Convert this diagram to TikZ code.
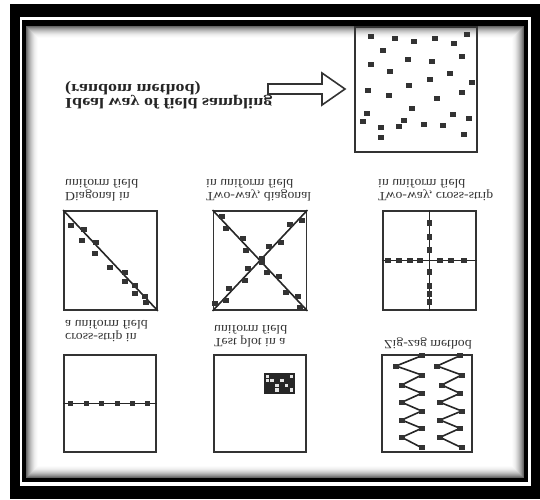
\documentclass[tikz,border=0pt]{standalone}
\usepackage{fontspec}
\setmainfont{Liberation Serif}
\usetikzlibrary{calc}
\begin{document}
\begin{tikzpicture}[x=1pt,y=-1pt,
  boxc/.style={draw=black!80, line width=1.8pt, rectangle, inner sep=0pt},
  linec/.style={draw=black!85, line width=1.6pt},
  arrowc/.style={draw=black!80, line width=1.6pt, line join=miter},
  dotc/.style={fill=black!80},
  lab/.style={yscale=-1, xscale=1.1, align=left, anchor=west, inner sep=0pt, text=black!80,
    font=\fontsize{12.5}{13}\selectfont},
  ttl/.style={yscale=-1, xscale=1.2, align=left, anchor=west, inner sep=0pt, text=black!85,
    font=\bfseries\fontsize{15}{14}\selectfont}]
\useasboundingbox (0,0) rectangle (540,499);
% frame
\fill[black] (10,4) rectangle (540,499);
\fill[white] (20,17) rectangle (531,486);
\fill[black] (22,20) rectangle (528,482);
\foreach \i [evaluate=\i as \c using int(60*(1-\i/13)*(1-\i/13))] in {0,...,12}
  \fill[black!\c] (26+\i,26+\i) rectangle (524-\i,478-\i);
\fill[white] (39,39) rectangle (511,465);

% random sampling box
\node[boxc, minimum width=122pt, minimum height=125pt] (rand) at (416,89.5) {};
\foreach \x/\y in {370.7/36.7, 395/38.3, 414.3/41.7, 435/38.3, 454.3/43.3, 466.7/34,
  383.3/50, 407.7/59.3, 431.7/61.7, 462.3/56, 370.7/64, 390/71, 450/73.3,
  430/79.3, 471.7/82.3, 409/85, 368.3/90.7, 389.3/95.7, 461.7/92.7, 436.7/98.3,
  412.3/108.3, 367.3/113.3, 453.3/114, 363.3/121, 404.3/120, 469.3/118.3,
  381/127.7, 399/126.7, 423.7/124.3, 442.7/125.3, 381/137.3, 464.3/134.3}
  \fill[dotc] (\x-3,\y-2.5) rectangle ++(6,5);

% hollow arrow
\draw[arrowc] (268,84) -- (322,84) -- (322,73) -- (345,89) -- (322,105) -- (322,94) -- (268,94) -- cycle;

% title
\node[ttl] (title) at (65,95) {Ideal way of field sampling\\(random method)};

% labels
\node[lab] (l1) at (65,190.5) {Diagonal in\\uniform field};
\node[lab] (l2) at (206,190.5) {Two-way, diagonal\\in uniform field};
\node[lab] (l3) at (378,190.5) {Two-way, cross-strip\\in uniform field};
\node[lab] (l4) at (65,331.5) {cross-strip in\\a uniform field};
\node[lab] (l5) at (214,336) {Test plot in a\\uniform field};
\node[lab] (l6) at (384,343) {Zig-zag method};

% boxes
\node[boxc, minimum width=93pt, minimum height=99pt] (b1) at (110.5,260.5) {};
\node[boxc, minimum width=93pt, minimum height=99pt] (b2) at (260,260.5) {};
\node[boxc, minimum width=93pt, minimum height=99pt] (b3) at (429.5,260.5) {};
\node[boxc, minimum width=92pt, minimum height=97pt] (b4) at (110,403.5) {};
\node[boxc, minimum width=92pt, minimum height=97pt] (b5) at (260,403.5) {};
\node[boxc, minimum width=90pt, minimum height=97pt] (b6) at (427,403.5) {};

% box 1: diagonal
\draw[linec] (b1.north west) -- (b1.south east);
\foreach \x/\y in {71.3/225.8, 83.7/229.2, 81.6/240.9, 95.7/242.3, 95/253.7, 110.2/267.5,
  124.7/272.6, 124.7/281.9, 135.3/285.4, 135/293.3, 145.3/296.7, 146.3/302.6}
  \fill[dotc] (\x-3,\y-2.5) rectangle ++(6,5);

% box 2: two diagonals
\draw[linec] (b2.north west) -- (b2.south east);
\draw[linec] (b2.north east) -- (b2.south west);
\foreach \t/\s in {0.08/1, 0.16/-1, 0.3/1, 0.38/-1, 0.5/1, 0.6/-1, 0.68/1, 0.8/-1, 0.88/1, 0.95/-1}{
  \fill[dotc] ($(b2.north west)!\t!(b2.south east)+(2.2*\s-3,-2.05*\s-2.5)$) rectangle ++(6,5);
  \fill[dotc] ($(b2.north east)!\t!(b2.south west)+(2.2*\s-3,2.05*\s-2.5)$) rectangle ++(6,5);
}

% box 3: cross strip
\draw[linec] (b3.north) -- (b3.south);
\draw[linec] (b3.west) -- (b3.east);
\foreach \x in {388, 399, 410, 420, 440, 451, 464}
  \fill[dotc] (\x-3,260.5-2.5) rectangle ++(6,5);
\foreach \y in {223, 237, 250, 272, 286, 294, 302}
  \fill[dotc] (429.5-2.5,\y-3) rectangle ++(5,6);

% box 4: single strip
\draw[linec] (b4.west) -- (b4.east);
\foreach \x in {70.6, 86, 101.6, 117, 132, 147.4}
  \fill[dotc] (\x-2.5,403.5-2.2) rectangle ++(5,4.4);

% box 5: test plot
\fill[black!85] (264.3,373.3) rectangle (295,394);
\foreach \cx/\cy in {0/0, 0/1, 1/1, 2/2, 2/3, 3/1, 4/2, 5/0, 5/3}
  \fill[white!90!black] (265.5+4.8*\cx,374.5+4.6*\cy) rectangle ++(3.6,3.2);

% box 6: zig-zag
\draw[linec, line join=round] (421.7,355.7) -- (396,366) -- (421.7,375) -- (401.7,385) -- (421.7,393.3)
  -- (401.7,402.3) -- (421.7,411) -- (401.7,420) -- (421.7,428.3) -- (401.7,437.3) -- (421.7,447.7);
\draw[linec, line join=round] (460,355.7) -- (437,366) -- (461.7,375) -- (441.7,385) -- (460,393.3)
  -- (440,402.3) -- (461.7,411) -- (440,420) -- (460,428.3) -- (440,437.3) -- (461.7,447.7);
\foreach \x/\y in {421.7/355.7, 396/366, 421.7/375, 401.7/385, 421.7/393.3, 401.7/402.3, 421.7/411,
  401.7/420, 421.7/428.3, 401.7/437.3, 421.7/447.7,
  460/355.7, 437/366, 461.7/375, 441.7/385, 460/393.3, 440/402.3, 461.7/411, 440/420,
  460/428.3, 440/437.3, 461.7/447.7}
  \fill[dotc] (\x-3,\y-2.5) rectangle ++(6,5);
\end{tikzpicture}
\end{document}
